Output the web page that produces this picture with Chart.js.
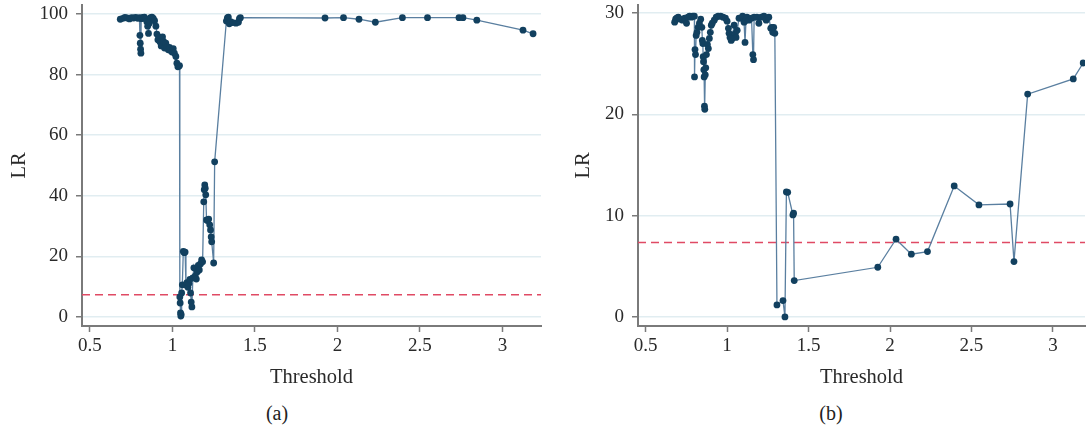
<!DOCTYPE html>
<html><head><meta charset="utf-8">
<script src="https://cdn.jsdelivr.net/npm/chart.js@4.4.0/dist/chart.umd.min.js"></script>
<style>
html,body{margin:0;padding:0;background:#fff;}
#wrap{position:relative;width:1089px;height:430px;overflow:hidden;background:#fff;}
canvas{position:absolute;top:0;}
.cap{position:absolute;font-family:"Liberation Serif",serif;font-size:20px;color:#222;transform:translate(-50%,-50%);top:413px;white-space:nowrap;}
</style></head><body>
<div id="wrap">
<canvas id="ca" width="545" height="398" style="left:0"></canvas>
<canvas id="cb" width="544" height="398" style="left:545px"></canvas>
<div class="cap" style="left:277px">(a)</div>
<div class="cap" style="left:831px">(b)</div>
</div>
<script>
// ---- Panel (a) ----
const thresholdA = [0.684,0.700,0.712,0.725,0.740,0.752,0.765,0.778,0.790,0.800,0.803,0.805,0.807,0.809,0.811,0.820,0.830,0.838,0.845,0.850,0.855,0.860,0.868,0.876,0.884,0.892,0.900,0.906,0.912,0.918,0.925,0.932,0.940,0.946,0.952,0.960,0.968,0.975,0.982,0.990,0.997,1.005,1.012,1.021,1.027,1.033,1.039,1.043,1.045,1.047,1.049,1.051,1.053,1.056,1.060,1.066,1.072,1.077,1.082,1.088,1.094,1.100,1.106,1.110,1.114,1.118,1.124,1.130,1.138,1.145,1.150,1.157,1.163,1.170,1.177,1.183,1.190,1.193,1.196,1.199,1.202,1.207,1.213,1.220,1.226,1.231,1.235,1.238,1.250,1.256,1.327,1.333,1.339,1.345,1.352,1.365,1.385,1.400,1.406,1.412,1.925,2.037,2.131,2.230,2.394,2.546,2.737,2.761,2.845,3.125,3.186];
const lrA = [98.3,98.6,98.9,98.7,98.4,98.8,98.7,98.9,98.6,98.8,93.0,90.4,88.4,87.1,98.5,98.9,99.0,98.4,97.5,96.0,93.6,97.0,98.8,99.0,98.6,97.8,96.0,93.4,91.5,92.5,90.8,89.5,92.5,91.0,88.8,90.4,89.2,88.2,89.0,88.0,87.5,88.6,87.1,86.0,83.8,82.6,82.8,83.0,6.6,4.6,1.3,0.3,0.8,7.9,10.6,21.6,21.2,21.4,10.5,11.3,9.8,11.0,12.4,7.9,4.9,3.3,12.9,16.2,13.5,12.5,14.8,17.0,15.5,17.5,18.8,18.2,38.0,42.0,43.6,42.5,40.3,32.0,31.8,32.3,30.4,28.7,26.4,24.8,17.8,51.2,97.7,98.7,99.0,96.8,97.5,97.2,97.0,97.3,98.5,98.8,98.7,98.8,98.3,97.3,98.8,98.8,98.8,98.8,98.0,94.7,93.5];
const yTicksA = [0,20,40,60,80,100];
const criticalA = 7.35;

// ---- Panel (b) ----
const thresholdB = [0.678,0.684,0.690,0.700,0.712,0.726,0.740,0.751,0.760,0.770,0.781,0.790,0.799,0.800,0.803,0.806,0.810,0.815,0.822,0.830,0.838,0.845,0.848,0.851,0.853,0.855,0.857,0.859,0.861,0.863,0.866,0.869,0.873,0.879,0.885,0.891,0.897,0.903,0.909,0.921,0.933,0.945,0.960,0.975,0.990,1.000,1.008,1.012,1.018,1.025,1.032,1.043,1.050,1.055,1.062,1.073,1.086,1.095,1.104,1.110,1.116,1.122,1.134,1.150,1.158,1.162,1.166,1.183,1.195,1.210,1.226,1.240,1.256,1.268,1.274,1.280,1.286,1.293,1.306,1.343,1.355,1.364,1.372,1.404,1.408,1.412,1.925,2.037,2.131,2.230,2.394,2.546,2.737,2.761,2.845,3.125,3.186];
const lrB = [29.1,29.4,29.5,29.6,29.4,29.3,29.5,29.0,29.6,29.7,29.6,29.7,29.7,23.7,26.4,25.9,27.8,28.1,28.6,29.0,29.4,28.6,27.3,27.0,25.7,25.2,24.4,23.7,20.8,20.5,23.9,24.6,25.9,26.9,26.5,27.5,28.1,28.8,29.0,29.3,29.6,29.7,29.7,29.6,29.5,29.2,28.5,28.0,27.6,27.3,27.5,28.8,28.0,27.6,28.3,29.5,29.5,29.7,29.1,27.1,29.3,29.6,29.3,29.5,25.9,25.4,29.6,29.6,29.0,29.6,29.7,29.3,29.6,28.5,28.6,28.1,28.6,28.0,1.18,1.61,0.0,12.34,12.3,10.07,10.24,3.59,4.9,7.67,6.19,6.45,12.93,11.06,11.15,5.46,22.0,23.5,25.07];
const yTicksB = [0,10,20,30];
const criticalB = 7.35;

const xTicks = [0.5,1,1.5,2,2.5,3];

Chart.defaults.font.family = "'Liberation Serif', 'Times New Roman', serif";
Chart.defaults.color = '#2a2a2a';

const critPlugin = {
  id: 'crit',
  beforeDatasetsDraw(chart, args, opts) {
    const {ctx, chartArea} = chart;
    const y = chart.scales.y.getPixelForValue(opts.value);
    ctx.save();
    ctx.beginPath();
    ctx.rect(chartArea.left, chartArea.top, chartArea.right - chartArea.left, chartArea.bottom - chartArea.top);
    ctx.clip();
    ctx.strokeStyle = '#e04a64';
    ctx.lineWidth = 1.5;
    ctx.setLineDash([8, 5]);
    ctx.beginPath();
    ctx.moveTo(chartArea.left, y);
    ctx.lineTo(chartArea.right, y);
    ctx.stroke();
    ctx.restore();
  }
};

function makeChart(id, xs, ys, yTicks, yMin, yMax, xMin, xMax, crit, yAxisW, titlePadTop) {
  const pts = xs.map((x, i) => ({x: x, y: ys[i]}));
  new Chart(document.getElementById(id), {
    type: 'scatter',
    data: {datasets: [{
      data: pts,
      showLine: true,
      borderColor: '#5a7fa0',
      borderWidth: 1.3,
      pointBackgroundColor: '#12405f',
      pointBorderColor: '#12405f',
      pointRadius: 3.4,
      pointBorderWidth: 0,
      tension: 0
    }]},
    plugins: [critPlugin],
    options: {
      responsive: false,
      animation: false,
      devicePixelRatio: 1,
      layout: {padding: {top: 5, right: 0, left: 0, bottom: 0}},
      plugins: {legend: {display: false}, tooltip: {enabled: false}, crit: {value: crit}},
      scales: {
        x: {
          type: 'linear', min: xMin, max: xMax,
          afterBuildTicks: s => { s.ticks = xTicks.map(v => ({value: v})); },
          afterFit: s => { s.height = 398 - 326; s.paddingLeft = 0; s.paddingRight = 0; },
          ticks: {font: {size: 19}, padding: 3, maxRotation: 0, autoSkip: false, callback: v => String(v)},
          grid: {drawOnChartArea: false, drawTicks: true, tickColor: '#7a7a7a', tickLength: 6, tickWidth: 1.5},
          border: {display: true, color: '#7a7a7a', width: 2},
          title: {display: true, text: 'Threshold', font: {size: 20.5}, padding: {top: 0, bottom: 8}}
        },
        y: {
          type: 'linear', min: yMin, max: yMax,
          afterBuildTicks: s => { s.ticks = yTicks.map(v => ({value: v})); },
          afterFit: s => { s.width = yAxisW; s.paddingTop = 0; s.paddingBottom = 0; },
          ticks: {font: {size: 19}, padding: 8, callback: v => String(v)},
          grid: {color: '#e1edf1', lineWidth: 1.5, drawTicks: true, tickColor: '#7a7a7a', tickLength: 6, tickWidth: 1.5},
          border: {display: true, color: '#7a7a7a', width: 2},
          title: {display: true, text: 'LR', font: {size: 20.5}, padding: {top: titlePadTop, bottom: 0}}
        }
      }
    }
  });
}

makeChart('ca', thresholdA, lrA, yTicksA, -3, 103, 0.452, 3.234, criticalA, 82, 7);
makeChart('cb', thresholdB, lrB, yTicksB, -0.9, 30.8, 0.453, 3.197, criticalB, 93, 26);
</script>
</body></html>
